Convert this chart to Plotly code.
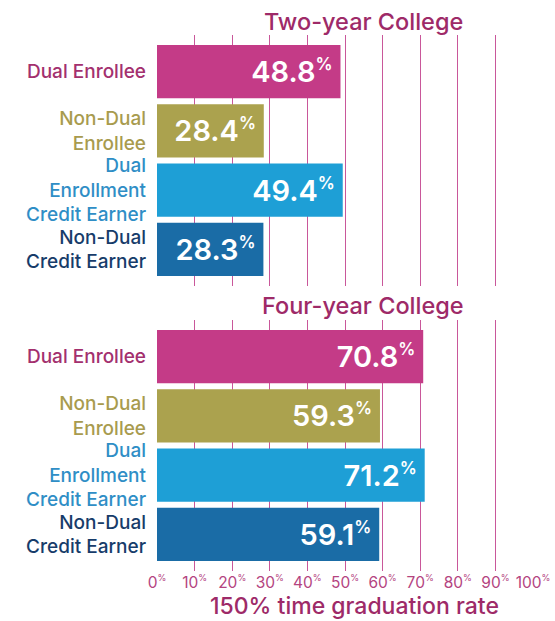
import plotly.graph_objects as go

# Graduation rates (150% time), percent
categories = ["Dual Enrollee", "Non-Dual<br>Enrollee", "Dual<br>Enrollment<br>Credit Earner", "Non-Dual<br>Credit Earner"]
two_year = [48.8, 28.4, 49.4, 28.3]
four_year = [70.8, 59.3, 71.2, 59.1]
panel_titles = ["Two-year College", "Four-year College"]
x_title = "150% time graduation rate"
x_ticks = [0, 10, 20, 30, 40, 50, 60, 70, 80, 90, 100]

bar_colors = ["#C43B87", "#ABA24E", "#1E9FD6", "#1A6CA6"]
label_colors = ["#A3306E", "#A89B4E", "#2F8EC6", "#173C6A"]
accent = "#9E2A68"
grid_color = "#C9579A"
FONT = "Inter"

W, H = 555, 621
x0_px, x1_px = 157, 533
top_dom = [1 - 286 / H, 1 - 35 / H]
bot_dom = [1 - 571 / H, 1 - 320 / H]

tick_text_y = [f'<span style="color:{c}">{t}</span>' for c, t in zip(label_colors, categories)]
tick_text_x = [f'{v}<sup><span style="font-size:9px">%</span></sup>' for v in x_ticks]


def value_text(v):
    return f'{v:.1f}<sup><span style="font-size:17px">%</span></sup>\u2009'


fig = go.Figure()
for vals, xa, ya in [(two_year, "x", "y"), (four_year, "x2", "y2")]:
    fig.add_trace(go.Bar(
        x=vals, y=list(range(len(categories))), orientation="h",
        xaxis=xa, yaxis=ya, width=0.9,
        marker=dict(color=bar_colors, line=dict(width=0)),
        text=[value_text(v) for v in vals],
        textposition="inside", insidetextanchor="end",
        textfont=dict(family=FONT, size=29, color="white", weight=600),
        textangle=0, cliponaxis=False, hoverinfo="skip",
    ))

xcommon = dict(range=[0, 100], domain=[x0_px / W, x1_px / W], tickvals=x_ticks,
               showgrid=True, gridcolor=grid_color, gridwidth=1, zeroline=False,
               showline=False, fixedrange=True, automargin=False)
ycommon = dict(range=[3.62, -0.62], tickvals=list(range(len(categories))), ticktext=tick_text_y,
               showgrid=False, zeroline=False, showline=False, ticks="",
               ticklabelstandoff=10, tickfont=dict(family=FONT, size=19, weight=500),
               fixedrange=True, automargin=False)

title_font = dict(family=FONT, size=23.5, color=accent, weight=500)

fig.update_layout(
    width=W, height=H, margin=dict(l=0, r=0, t=0, b=0, autoexpand=False),
    paper_bgcolor="white", plot_bgcolor="white", showlegend=False,
    xaxis=dict(**xcommon, anchor="y", showticklabels=False),
    yaxis=dict(**ycommon, domain=top_dom, anchor="x"),
    xaxis2=dict(**xcommon, anchor="y2", showticklabels=True, ticktext=tick_text_x,
                tickfont=dict(family=FONT, size=15.5, color="#B4447F"), ticks="",
                ticklabelstandoff=0, ticklabelshift=0),
    yaxis2=dict(**ycommon, domain=bot_dom, anchor="x2"),
    annotations=[
        dict(text=panel_titles[0], x=363 / W, y=1 - 21 / H, xref="paper", yref="paper",
             showarrow=False, font=title_font, xanchor="center", yanchor="middle"),
        dict(text=panel_titles[1], x=363 / W, y=1 - 305 / H, xref="paper", yref="paper",
             showarrow=False, font=title_font, xanchor="center", yanchor="middle"),
        dict(text=x_title, x=354 / W, y=1 - 606 / H, xref="paper", yref="paper",
             showarrow=False, font=dict(family=FONT, size=23, color=accent, weight=500),
             xanchor="center", yanchor="middle"),
    ],
)

fig.write_html("out.html")
